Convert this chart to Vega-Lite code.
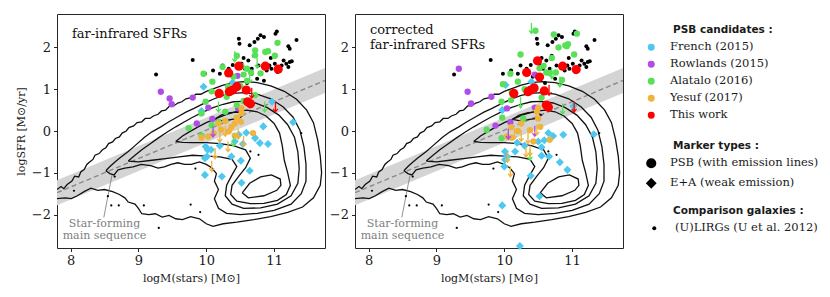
{
"$schema": "https://vega.github.io/schema/vega-lite/v6.json",
"padding": {"left": 14, "top": 13, "right": 5, "bottom": 5},
"bounds": "flush",
"spacing": 30,
"config": {
 "view": {"stroke": "#262626", "strokeWidth": 1},
 "font": "DejaVu Serif",
 "axis": {"grid": false, "domain": false, "tickColor": "#262626", "tickSize": 3.5, "tickWidth": 1, "labelFont": "DejaVu Serif", "labelFontSize": 13, "labelColor": "#1a1a1a", "labelPadding": 3, "titleFont": "DejaVu Serif", "titleFontSize": 11, "titleFontWeight": "normal", "titleColor": "#1a1a1a"},
 "legend": {"orient": "none", "padding": 0, "titleFont": "DejaVu Sans", "titleFontWeight": "bold", "titleFontSize": 10.5, "titleColor": "#1a1a1a", "labelFont": "DejaVu Serif", "labelFontSize": 11.5, "labelColor": "#1a1a1a", "rowPadding": 4, "titlePadding": 6}
},
"datasets": {
 "band": [{"x":7.8,"y":-1.776,"y2":-1.176},{"x":11.75,"y":0.91,"y2":1.51}],
 "msline": [{"x":7.8,"y":-1.476},{"x":11.75,"y":1.21}],
 "pointer": [{"x":8.49,"y":-2.07,"x2":8.61,"y2":-1.06}],
 "notes": [{"x":8.5,"y":-2.22,"text":"Star-forming"},{"x":8.5,"y":-2.51,"text":"main sequence"}],
 "labels": [{"p":1,"x":8.02,"y":2.33,"text":"far-infrared SFRs"},{"p":2,"x":8.02,"y":2.41,"text":"corrected"},{"p":2,"x":8.02,"y":2.05,"text":"far-infrared SFRs"}],
 "sdss": [{"x":8.05,"y":-1.43},{"x":8.65,"y":-1.09},{"x":8.55,"y":-1.56},{"x":8.6,"y":-1.78},{"x":8.71,"y":-1.78},{"x":9.08,"y":-1.78},{"x":9.3,"y":-2.32},{"x":9.84,"y":-0.9},{"x":9.91,"y":-1.94},{"x":10.77,"y":-0.57},{"x":11.4,"y":-0.05},{"x":9.77,"y":-1.76},{"x":10.65,"y":-0.49}],
 "ulirg": [{"x":9.26,"y":1.35},{"x":9.8,"y":1.7},{"x":9.98,"y":1.37},{"x":10.2,"y":1.37},{"x":10.24,"y":1.57},{"x":10.33,"y":1.49},{"x":10.39,"y":1.58},{"x":10.48,"y":2.21},{"x":10.49,"y":2.09},{"x":10.52,"y":1.61},{"x":10.57,"y":1.49},{"x":10.62,"y":1.69},{"x":10.64,"y":2.05},{"x":10.67,"y":1.49},{"x":10.67,"y":1.37},{"x":10.71,"y":2.13},{"x":10.76,"y":2.21},{"x":10.77,"y":1.57},{"x":10.8,"y":2.29},{"x":10.85,"y":2.25},{"x":10.89,"y":1.45},{"x":10.93,"y":1.57},{"x":10.96,"y":1.49},{"x":11.01,"y":1.61},{"x":11.02,"y":2.33},{"x":11.04,"y":2.38},{"x":11.05,"y":1.41},{"x":11.11,"y":1.57},{"x":11.14,"y":1.69},{"x":11.18,"y":1.61},{"x":11.21,"y":1.53},{"x":11.23,"y":1.65},{"x":11.26,"y":1.67},{"x":11.21,"y":2.03},{"x":11.23,"y":1.97},{"x":11.33,"y":2.18},{"x":10.42,"y":1.3},{"x":10.75,"y":1.25},{"x":10.6,"y":1.15},{"x":10.85,"y":1.2},{"x":10.55,"y":1.75},{"x":10.7,"y":1.8},{"x":10.95,"y":1.75},{"x":10.1,"y":1.45}],
 "contours": [
{"l":1,"o":0,"x":7.8,"y":-1.4},{"l":1,"o":1,"x":7.86,"y":-1.33},{"l":1,"o":2,"x":7.9,"y":-1.38},{"l":1,"o":3,"x":7.95,"y":-1.28},{"l":1,"o":4,"x":8.02,"y":-1.2},{"l":1,"o":5,"x":8.06,"y":-1.08},{"l":1,"o":6,"x":8.12,"y":-1.1},{"l":1,"o":7,"x":8.15,"y":-0.98},{"l":1,"o":8,"x":8.2,"y":-0.92},{"l":1,"o":9,"x":8.24,"y":-0.8},{"l":1,"o":10,"x":8.28,"y":-0.74},{"l":1,"o":11,"x":8.33,"y":-0.68},{"l":1,"o":12,"x":8.36,"y":-0.58},{"l":1,"o":13,"x":8.42,"y":-0.54},{"l":1,"o":14,"x":8.47,"y":-0.45},{"l":1,"o":15,"x":8.52,"y":-0.4},{"l":1,"o":16,"x":8.56,"y":-0.3},{"l":1,"o":17,"x":8.62,"y":-0.26},{"l":1,"o":18,"x":8.66,"y":-0.18},{"l":1,"o":19,"x":8.72,"y":-0.14},{"l":1,"o":20,"x":8.76,"y":-0.05},{"l":1,"o":21,"x":8.82,"y":0.0},{"l":1,"o":22,"x":8.86,"y":0.08},{"l":1,"o":23,"x":8.93,"y":0.12},{"l":1,"o":24,"x":8.98,"y":0.2},{"l":1,"o":25,"x":9.05,"y":0.22},{"l":1,"o":26,"x":9.1,"y":0.3},{"l":1,"o":27,"x":9.17,"y":0.3},{"l":1,"o":28,"x":9.22,"y":0.36},{"l":1,"o":29,"x":9.29,"y":0.4},{"l":1,"o":30,"x":9.34,"y":0.48},{"l":1,"o":31,"x":9.4,"y":0.5},{"l":1,"o":32,"x":9.46,"y":0.6},{"l":1,"o":33,"x":9.52,"y":0.6},{"l":1,"o":34,"x":9.58,"y":0.67},{"l":1,"o":35,"x":9.64,"y":0.7},{"l":1,"o":36,"x":9.7,"y":0.77},{"l":1,"o":37,"x":9.78,"y":0.8},{"l":1,"o":38,"x":9.85,"y":0.88},{"l":1,"o":39,"x":9.92,"y":0.88},{"l":1,"o":40,"x":10.0,"y":0.95},{"l":1,"o":41,"x":10.12,"y":1.02},{"l":1,"o":42,"x":10.25,"y":1.1},{"l":1,"o":43,"x":10.4,"y":1.16},{"l":1,"o":44,"x":10.55,"y":1.18},{"l":1,"o":45,"x":10.75,"y":1.16},{"l":1,"o":46,"x":10.95,"y":1.08},{"l":1,"o":47,"x":11.15,"y":0.95},{"l":1,"o":48,"x":11.33,"y":0.76},{"l":1,"o":49,"x":11.48,"y":0.5},{"l":1,"o":50,"x":11.58,"y":0.2},{"l":1,"o":51,"x":11.64,"y":-0.2},{"l":1,"o":52,"x":11.68,"y":-0.6},{"l":1,"o":53,"x":11.7,"y":-1.0},{"l":1,"o":54,"x":11.68,"y":-1.3},{"l":1,"o":55,"x":11.58,"y":-1.6},{"l":1,"o":56,"x":11.42,"y":-1.82},{"l":1,"o":57,"x":11.2,"y":-1.95},{"l":1,"o":58,"x":10.95,"y":-2.05},{"l":1,"o":59,"x":10.7,"y":-2.12},{"l":1,"o":60,"x":10.45,"y":-2.18},{"l":1,"o":61,"x":10.25,"y":-2.22},{"l":1,"o":62,"x":10.1,"y":-2.28},{"l":1,"o":63,"x":10.0,"y":-2.22},{"l":1,"o":64,"x":9.9,"y":-2.1},{"l":1,"o":65,"x":9.77,"y":-2.05},{"l":1,"o":66,"x":9.65,"y":-2.12},{"l":1,"o":67,"x":9.55,"y":-2.1},{"l":1,"o":68,"x":9.45,"y":-2.02},{"l":1,"o":69,"x":9.35,"y":-2.06},{"l":1,"o":70,"x":9.25,"y":-1.98},{"l":1,"o":71,"x":9.15,"y":-2.0},{"l":1,"o":72,"x":9.05,"y":-1.98},{"l":1,"o":73,"x":9.0,"y":-1.85},{"l":1,"o":74,"x":8.95,"y":-1.75},{"l":1,"o":75,"x":8.85,"y":-1.7},{"l":1,"o":76,"x":8.8,"y":-1.6},{"l":1,"o":77,"x":8.72,"y":-1.52},{"l":1,"o":78,"x":8.62,"y":-1.45},{"l":1,"o":79,"x":8.5,"y":-1.4},{"l":1,"o":80,"x":8.4,"y":-1.42},{"l":1,"o":81,"x":8.3,"y":-1.37},{"l":1,"o":82,"x":8.2,"y":-1.45},{"l":1,"o":83,"x":8.1,"y":-1.55},{"l":1,"o":84,"x":8.01,"y":-1.62},{"l":1,"o":85,"x":7.92,"y":-1.6},{"l":1,"o":86,"x":7.8,"y":-1.62},
{"l":2,"o":0,"x":8.52,"y":-0.95},{"l":2,"o":1,"x":8.58,"y":-0.85},{"l":2,"o":2,"x":8.65,"y":-0.75},{"l":2,"o":3,"x":8.72,"y":-0.65},{"l":2,"o":4,"x":8.85,"y":-0.49},{"l":2,"o":5,"x":8.95,"y":-0.35},{"l":2,"o":6,"x":9.09,"y":-0.15},{"l":2,"o":7,"x":9.2,"y":-0.02},{"l":2,"o":8,"x":9.33,"y":0.1},{"l":2,"o":9,"x":9.45,"y":0.22},{"l":2,"o":10,"x":9.58,"y":0.34},{"l":2,"o":11,"x":9.7,"y":0.45},{"l":2,"o":12,"x":9.82,"y":0.54},{"l":2,"o":13,"x":9.95,"y":0.65},{"l":2,"o":14,"x":10.1,"y":0.76},{"l":2,"o":15,"x":10.25,"y":0.85},{"l":2,"o":16,"x":10.4,"y":0.9},{"l":2,"o":17,"x":10.55,"y":0.92},{"l":2,"o":18,"x":10.75,"y":0.88},{"l":2,"o":19,"x":10.95,"y":0.77},{"l":2,"o":20,"x":11.13,"y":0.58},{"l":2,"o":21,"x":11.28,"y":0.33},{"l":2,"o":22,"x":11.38,"y":0.02},{"l":2,"o":23,"x":11.44,"y":-0.38},{"l":2,"o":24,"x":11.47,"y":-0.8},{"l":2,"o":25,"x":11.47,"y":-1.2},{"l":2,"o":26,"x":11.4,"y":-1.5},{"l":2,"o":27,"x":11.25,"y":-1.75},{"l":2,"o":28,"x":11.0,"y":-1.9},{"l":2,"o":29,"x":10.75,"y":-1.97},{"l":2,"o":30,"x":10.5,"y":-2.0},{"l":2,"o":31,"x":10.3,"y":-1.97},{"l":2,"o":32,"x":10.18,"y":-1.85},{"l":2,"o":33,"x":10.12,"y":-1.62},{"l":2,"o":34,"x":10.18,"y":-1.4},{"l":2,"o":35,"x":10.12,"y":-1.2},{"l":2,"o":36,"x":10.15,"y":-1.02},{"l":2,"o":37,"x":10.08,"y":-0.88},{"l":2,"o":38,"x":10.0,"y":-0.8},{"l":2,"o":39,"x":9.9,"y":-0.74},{"l":2,"o":40,"x":9.78,"y":-0.8},{"l":2,"o":41,"x":9.68,"y":-0.8},{"l":2,"o":42,"x":9.58,"y":-0.76},{"l":2,"o":43,"x":9.48,"y":-0.8},{"l":2,"o":44,"x":9.38,"y":-0.86},{"l":2,"o":45,"x":9.29,"y":-0.89},{"l":2,"o":46,"x":9.18,"y":-0.83},{"l":2,"o":47,"x":9.04,"y":-0.8},{"l":2,"o":48,"x":8.92,"y":-0.86},{"l":2,"o":49,"x":8.8,"y":-0.89},{"l":2,"o":50,"x":8.7,"y":-0.93},{"l":2,"o":51,"x":8.64,"y":-1.05},{"l":2,"o":52,"x":8.58,"y":-1.02},{"l":2,"o":53,"x":8.52,"y":-0.95},
{"l":3,"o":0,"x":8.85,"y":-0.72},{"l":3,"o":1,"x":8.95,"y":-0.58},{"l":3,"o":2,"x":9.05,"y":-0.45},{"l":3,"o":3,"x":9.18,"y":-0.3},{"l":3,"o":4,"x":9.29,"y":-0.17},{"l":3,"o":5,"x":9.42,"y":-0.03},{"l":3,"o":6,"x":9.55,"y":0.1},{"l":3,"o":7,"x":9.68,"y":0.22},{"l":3,"o":8,"x":9.8,"y":0.33},{"l":3,"o":9,"x":9.95,"y":0.45},{"l":3,"o":10,"x":10.1,"y":0.56},{"l":3,"o":11,"x":10.25,"y":0.64},{"l":3,"o":12,"x":10.4,"y":0.7},{"l":3,"o":13,"x":10.55,"y":0.71},{"l":3,"o":14,"x":10.72,"y":0.67},{"l":3,"o":15,"x":10.9,"y":0.56},{"l":3,"o":16,"x":11.07,"y":0.38},{"l":3,"o":17,"x":11.2,"y":0.15},{"l":3,"o":18,"x":11.3,"y":-0.15},{"l":3,"o":19,"x":11.35,"y":-0.5},{"l":3,"o":20,"x":11.37,"y":-0.9},{"l":3,"o":21,"x":11.35,"y":-1.25},{"l":3,"o":22,"x":11.25,"y":-1.55},{"l":3,"o":23,"x":11.05,"y":-1.75},{"l":3,"o":24,"x":10.8,"y":-1.84},{"l":3,"o":25,"x":10.55,"y":-1.85},{"l":3,"o":26,"x":10.38,"y":-1.75},{"l":3,"o":27,"x":10.28,"y":-1.55},{"l":3,"o":28,"x":10.3,"y":-1.3},{"l":3,"o":29,"x":10.38,"y":-1.05},{"l":3,"o":30,"x":10.45,"y":-0.85},{"l":3,"o":31,"x":10.38,"y":-0.68},{"l":3,"o":32,"x":10.2,"y":-0.62},{"l":3,"o":33,"x":10.0,"y":-0.6},{"l":3,"o":34,"x":9.8,"y":-0.58},{"l":3,"o":35,"x":9.6,"y":-0.62},{"l":3,"o":36,"x":9.4,"y":-0.66},{"l":3,"o":37,"x":9.2,"y":-0.7},{"l":3,"o":38,"x":9.0,"y":-0.74},{"l":3,"o":39,"x":8.85,"y":-0.72},
{"l":4,"o":0,"x":9.55,"y":-0.25},{"l":4,"o":1,"x":9.65,"y":-0.12},{"l":4,"o":2,"x":9.75,"y":-0.02},{"l":4,"o":3,"x":9.88,"y":0.1},{"l":4,"o":4,"x":10.0,"y":0.2},{"l":4,"o":5,"x":10.15,"y":0.3},{"l":4,"o":6,"x":10.3,"y":0.4},{"l":4,"o":7,"x":10.45,"y":0.47},{"l":4,"o":8,"x":10.6,"y":0.5},{"l":4,"o":9,"x":10.75,"y":0.46},{"l":4,"o":10,"x":10.88,"y":0.36},{"l":4,"o":11,"x":11.0,"y":0.18},{"l":4,"o":12,"x":11.08,"y":-0.05},{"l":4,"o":13,"x":11.12,"y":-0.35},{"l":4,"o":14,"x":11.15,"y":-0.7},{"l":4,"o":15,"x":11.2,"y":-1.0},{"l":4,"o":16,"x":11.24,"y":-1.3},{"l":4,"o":17,"x":11.18,"y":-1.52},{"l":4,"o":18,"x":11.05,"y":-1.66},{"l":4,"o":19,"x":10.85,"y":-1.73},{"l":4,"o":20,"x":10.65,"y":-1.74},{"l":4,"o":21,"x":10.45,"y":-1.68},{"l":4,"o":22,"x":10.36,"y":-1.52},{"l":4,"o":23,"x":10.38,"y":-1.3},{"l":4,"o":24,"x":10.48,"y":-1.08},{"l":4,"o":25,"x":10.58,"y":-0.88},{"l":4,"o":26,"x":10.65,"y":-0.65},{"l":4,"o":27,"x":10.58,"y":-0.45},{"l":4,"o":28,"x":10.4,"y":-0.35},{"l":4,"o":29,"x":10.2,"y":-0.3},{"l":4,"o":30,"x":10.0,"y":-0.28},{"l":4,"o":31,"x":9.8,"y":-0.28},{"l":4,"o":32,"x":9.65,"y":-0.27},{"l":4,"o":33,"x":9.55,"y":-0.25},
{"l":5,"o":0,"x":10.12,"y":0.28},{"l":5,"o":1,"x":10.22,"y":0.38},{"l":5,"o":2,"x":10.35,"y":0.44},{"l":5,"o":3,"x":10.48,"y":0.45},{"l":5,"o":4,"x":10.55,"y":0.38},{"l":5,"o":5,"x":10.48,"y":0.3},{"l":5,"o":6,"x":10.35,"y":0.27},{"l":5,"o":7,"x":10.22,"y":0.25},{"l":5,"o":8,"x":10.12,"y":0.28},
{"l":6,"o":0,"x":10.53,"y":-1.48},{"l":6,"o":1,"x":10.64,"y":-1.25},{"l":6,"o":2,"x":10.8,"y":-1.1},{"l":6,"o":3,"x":10.96,"y":-1.05},{"l":6,"o":4,"x":11.09,"y":-1.15},{"l":6,"o":5,"x":11.1,"y":-1.3},{"l":6,"o":6,"x":11.04,"y":-1.42},{"l":6,"o":7,"x":10.85,"y":-1.55},{"l":6,"o":8,"x":10.62,"y":-1.6},{"l":6,"o":9,"x":10.53,"y":-1.48}
 ],
 "psb": [
{"p":1,"s":"French (2015)","t":"E+A (weak emission)","u":0,"x":9.96,"y":1.06},{"p":1,"s":"French (2015)","t":"E+A (weak emission)","u":0,"x":9.93,"y":0.48},{"p":1,"s":"French (2015)","t":"E+A (weak emission)","u":0,"x":10.39,"y":1.16},{"p":1,"s":"French (2015)","t":"E+A (weak emission)","u":0,"x":9.99,"y":-0.37},{"p":1,"s":"French (2015)","t":"E+A (weak emission)","u":0,"x":10.02,"y":-0.45},{"p":1,"s":"French (2015)","t":"E+A (weak emission)","u":0,"x":10.07,"y":-0.45},{"p":1,"s":"French (2015)","t":"E+A (weak emission)","u":0,"x":10.01,"y":-0.61},{"p":1,"s":"French (2015)","t":"E+A (weak emission)","u":0,"x":10.2,"y":-0.35},{"p":1,"s":"French (2015)","t":"E+A (weak emission)","u":0,"x":10.37,"y":-0.61},{"p":1,"s":"French (2015)","t":"E+A (weak emission)","u":0,"x":10.51,"y":-0.71},{"p":1,"s":"French (2015)","t":"E+A (weak emission)","u":0,"x":10.23,"y":-1.09},{"p":1,"s":"French (2015)","t":"E+A (weak emission)","u":0,"x":10.52,"y":-1.24},{"p":1,"s":"French (2015)","t":"E+A (weak emission)","u":0,"x":9.98,"y":-1.05},{"p":1,"s":"French (2015)","t":"E+A (weak emission)","u":0,"x":10.64,"y":-0.95},{"p":1,"s":"French (2015)","t":"E+A (weak emission)","u":0,"x":10.59,"y":-0.04},{"p":1,"s":"French (2015)","t":"E+A (weak emission)","u":0,"x":10.72,"y":-0.17},{"p":1,"s":"French (2015)","t":"E+A (weak emission)","u":0,"x":10.79,"y":-0.29},{"p":1,"s":"French (2015)","t":"E+A (weak emission)","u":0,"x":10.91,"y":-0.31},{"p":1,"s":"French (2015)","t":"E+A (weak emission)","u":0,"x":10.84,"y":0.11},{"p":1,"s":"French (2015)","t":"E+A (weak emission)","u":0,"x":10.97,"y":0.7},{"p":1,"s":"French (2015)","t":"E+A (weak emission)","u":0,"x":11.28,"y":0.21},{"p":1,"s":"French (2015)","t":"E+A (weak emission)","u":0,"x":10.48,"y":-0.09},{"p":1,"s":"French (2015)","t":"E+A (weak emission)","u":0,"x":10.42,"y":-0.25},{"p":1,"s":"French (2015)","t":"E+A (weak emission)","u":0,"x":10.54,"y":-0.31},{"p":1,"s":"French (2015)","t":"E+A (weak emission)","u":0,"x":9.98,"y":-0.65},
{"p":1,"s":"Rowlands (2015)","t":"PSB (with emission lines)","u":0,"x":9.33,"y":0.94},{"p":1,"s":"Rowlands (2015)","t":"PSB (with emission lines)","u":0,"x":9.46,"y":0.78},{"p":1,"s":"Rowlands (2015)","t":"PSB (with emission lines)","u":0,"x":9.49,"y":0.64},{"p":1,"s":"Rowlands (2015)","t":"PSB (with emission lines)","u":0,"x":9.8,"y":0.8},{"p":1,"s":"Rowlands (2015)","t":"PSB (with emission lines)","u":0,"x":10.03,"y":0.56},{"p":1,"s":"Rowlands (2015)","t":"PSB (with emission lines)","u":0,"x":10.09,"y":0.29},{"p":1,"s":"Rowlands (2015)","t":"PSB (with emission lines)","u":0,"x":10.46,"y":1.32},{"p":1,"s":"Rowlands (2015)","t":"PSB (with emission lines)","u":0,"x":9.86,"y":0.18},{"p":1,"s":"Rowlands (2015)","t":"PSB (with emission lines)","u":0,"x":10.47,"y":0.54},{"p":1,"s":"Rowlands (2015)","u":1,"x":10.1,"y":0.1},
{"p":1,"s":"Alatalo (2016)","t":"PSB (with emission lines)","u":0,"x":9.74,"y":0.07},{"p":1,"s":"Alatalo (2016)","t":"PSB (with emission lines)","u":0,"x":9.96,"y":1.37},{"p":1,"s":"Alatalo (2016)","t":"PSB (with emission lines)","u":0,"x":10.09,"y":1.18},{"p":1,"s":"Alatalo (2016)","t":"PSB (with emission lines)","u":0,"x":9.99,"y":0.7},{"p":1,"s":"Alatalo (2016)","t":"PSB (with emission lines)","u":0,"x":10.08,"y":0.95},{"p":1,"s":"Alatalo (2016)","t":"PSB (with emission lines)","u":0,"x":10.45,"y":1.8},{"p":1,"s":"Alatalo (2016)","t":"PSB (with emission lines)","u":0,"x":10.52,"y":1.55},{"p":1,"s":"Alatalo (2016)","t":"PSB (with emission lines)","u":0,"x":10.6,"y":1.49},{"p":1,"s":"Alatalo (2016)","t":"PSB (with emission lines)","u":0,"x":10.72,"y":1.93},{"p":1,"s":"Alatalo (2016)","t":"PSB (with emission lines)","u":0,"x":10.72,"y":1.81},{"p":1,"s":"Alatalo (2016)","t":"PSB (with emission lines)","u":0,"x":10.87,"y":1.89},{"p":1,"s":"Alatalo (2016)","t":"PSB (with emission lines)","u":0,"x":10.91,"y":1.91},{"p":1,"s":"Alatalo (2016)","t":"PSB (with emission lines)","u":0,"x":11.05,"y":2.11},{"p":1,"s":"Alatalo (2016)","t":"PSB (with emission lines)","u":0,"x":11.01,"y":1.8},{"p":1,"s":"Alatalo (2016)","t":"PSB (with emission lines)","u":0,"x":10.24,"y":1.53},{"p":1,"s":"Alatalo (2016)","t":"PSB (with emission lines)","u":0,"x":10.32,"y":1.06},{"p":1,"s":"Alatalo (2016)","t":"PSB (with emission lines)","u":0,"x":10.45,"y":0.62},{"p":1,"s":"Alatalo (2016)","t":"PSB (with emission lines)","u":0,"x":9.93,"y":0.42},{"p":1,"s":"Alatalo (2016)","t":"PSB (with emission lines)","u":0,"x":10.28,"y":0.46},{"p":1,"s":"Alatalo (2016)","t":"PSB (with emission lines)","u":0,"x":10.18,"y":0.22},{"p":1,"s":"Alatalo (2016)","t":"PSB (with emission lines)","u":0,"x":9.93,"y":-0.11},{"p":1,"s":"Alatalo (2016)","t":"PSB (with emission lines)","u":0,"x":10.08,"y":0.14},{"p":1,"s":"Alatalo (2016)","t":"PSB (with emission lines)","u":0,"x":10.72,"y":0.86},{"p":1,"s":"Alatalo (2016)","t":"PSB (with emission lines)","u":0,"x":10.4,"y":1.3},{"p":1,"s":"Alatalo (2016)","t":"PSB (with emission lines)","u":0,"x":10.55,"y":1.35},{"p":1,"s":"Alatalo (2016)","t":"PSB (with emission lines)","u":0,"x":10.66,"y":1.4},{"p":1,"s":"Alatalo (2016)","t":"PSB (with emission lines)","u":0,"x":10.8,"y":1.38},{"p":1,"s":"Alatalo (2016)","t":"PSB (with emission lines)","u":0,"x":10.3,"y":0.82},{"p":1,"s":"Alatalo (2016)","t":"PSB (with emission lines)","u":0,"x":10.55,"y":0.72},{"p":1,"s":"Alatalo (2016)","t":"PSB (with emission lines)","u":0,"x":10.6,"y":1.2},{"p":1,"s":"Alatalo (2016)","t":"PSB (with emission lines)","u":0,"x":10.5,"y":1.08},
{"p":1,"s":"Alatalo (2016)","u":1,"x":10.42,"y":1.9},{"p":1,"s":"Alatalo (2016)","u":1,"x":10.86,"y":0.7},{"p":1,"s":"Alatalo (2016)","u":1,"x":10.18,"y":0.7},{"p":1,"s":"Alatalo (2016)","u":1,"x":10.4,"y":-0.12},{"p":1,"s":"Alatalo (2016)","u":1,"x":10.64,"y":1.4},{"p":1,"s":"Alatalo (2016)","u":1,"x":10.75,"y":1.75},
{"p":1,"s":"Yesuf (2017)","t":"PSB (with emission lines)","u":0,"x":10.52,"y":0.54},{"p":1,"s":"Yesuf (2017)","t":"PSB (with emission lines)","u":0,"x":10.52,"y":0.42},{"p":1,"s":"Yesuf (2017)","t":"PSB (with emission lines)","u":0,"x":10.51,"y":0.22},{"p":1,"s":"Yesuf (2017)","t":"PSB (with emission lines)","u":0,"x":10.42,"y":0.18},{"p":1,"s":"Yesuf (2017)","t":"PSB (with emission lines)","u":0,"x":10.28,"y":0.24},{"p":1,"s":"Yesuf (2017)","t":"PSB (with emission lines)","u":0,"x":10.18,"y":0.18},{"p":1,"s":"Yesuf (2017)","t":"PSB (with emission lines)","u":0,"x":10.11,"y":-0.05},{"p":1,"s":"Yesuf (2017)","t":"PSB (with emission lines)","u":0,"x":10.03,"y":-0.13},{"p":1,"s":"Yesuf (2017)","t":"PSB (with emission lines)","u":0,"x":9.93,"y":-0.16},{"p":1,"s":"Yesuf (2017)","t":"PSB (with emission lines)","u":0,"x":10.42,"y":-0.11},{"p":1,"s":"Yesuf (2017)","t":"PSB (with emission lines)","u":0,"x":10.69,"y":-0.05},{"p":1,"s":"Yesuf (2017)","t":"PSB (with emission lines)","u":0,"x":10.33,"y":-0.01},{"p":1,"s":"Yesuf (2017)","t":"PSB (with emission lines)","u":0,"x":10.22,"y":0.03},{"p":1,"s":"Yesuf (2017)","t":"PSB (with emission lines)","u":0,"x":10.45,"y":0.32},{"p":1,"s":"Yesuf (2017)","t":"PSB (with emission lines)","u":0,"x":10.37,"y":0.1},
{"p":1,"s":"Yesuf (2017)","u":1,"x":10.28,"y":0.12},{"p":1,"s":"Yesuf (2017)","u":1,"x":10.2,"y":-0.02},{"p":1,"s":"Yesuf (2017)","u":1,"x":10.32,"y":-0.25},{"p":1,"s":"Yesuf (2017)","u":1,"x":10.13,"y":-0.42},{"p":1,"s":"Yesuf (2017)","u":1,"x":10.08,"y":-0.72},{"p":1,"s":"Yesuf (2017)","u":1,"x":10.47,"y":0.05},{"p":1,"s":"Yesuf (2017)","u":1,"x":10.55,"y":-0.12},
{"p":1,"s":"This work","t":"PSB (with emission lines)","u":0,"x":10.33,"y":1.39},{"p":1,"s":"This work","t":"PSB (with emission lines)","u":0,"x":10.48,"y":1.55},{"p":1,"s":"This work","t":"PSB (with emission lines)","u":0,"x":10.87,"y":1.55},{"p":1,"s":"This work","t":"PSB (with emission lines)","u":0,"x":11.06,"y":1.48},{"p":1,"s":"This work","t":"PSB (with emission lines)","u":0,"x":10.19,"y":0.9},{"p":1,"s":"This work","t":"PSB (with emission lines)","u":0,"x":10.34,"y":0.94},{"p":1,"s":"This work","t":"PSB (with emission lines)","u":0,"x":10.39,"y":0.98},{"p":1,"s":"This work","t":"PSB (with emission lines)","u":0,"x":10.45,"y":1.06},{"p":1,"s":"This work","t":"PSB (with emission lines)","u":0,"x":10.59,"y":0.98},{"p":1,"s":"This work","t":"PSB (with emission lines)","u":0,"x":10.61,"y":0.7},{"p":1,"s":"This work","t":"PSB (with emission lines)","u":0,"x":10.65,"y":0.65},
{"p":1,"s":"This work","u":1,"x":10.67,"y":1.03},{"p":1,"s":"This work","u":1,"x":11.02,"y":0.7},
{"p":2,"s":"French (2015)","t":"E+A (weak emission)","u":0,"x":10.02,"y":1.1},{"p":2,"s":"French (2015)","t":"E+A (weak emission)","u":0,"x":9.97,"y":0.5},{"p":2,"s":"French (2015)","t":"E+A (weak emission)","u":0,"x":10.4,"y":1.18},{"p":2,"s":"French (2015)","t":"E+A (weak emission)","u":0,"x":10.87,"y":-0.09},{"p":2,"s":"French (2015)","t":"E+A (weak emission)","u":0,"x":11.02,"y":0.6},{"p":2,"s":"French (2015)","t":"E+A (weak emission)","u":0,"x":11.32,"y":-0.08},{"p":2,"s":"French (2015)","t":"E+A (weak emission)","u":0,"x":10.5,"y":-0.25},{"p":2,"s":"French (2015)","t":"E+A (weak emission)","u":0,"x":10.59,"y":-0.22},{"p":2,"s":"French (2015)","t":"E+A (weak emission)","u":0,"x":10.55,"y":-0.39},{"p":2,"s":"French (2015)","t":"E+A (weak emission)","u":0,"x":10.66,"y":-0.61},{"p":2,"s":"French (2015)","t":"E+A (weak emission)","u":0,"x":10.55,"y":-0.59},{"p":2,"s":"French (2015)","t":"E+A (weak emission)","u":0,"x":10.82,"y":-0.75},{"p":2,"s":"French (2015)","t":"E+A (weak emission)","u":0,"x":10.19,"y":-0.28},{"p":2,"s":"French (2015)","t":"E+A (weak emission)","u":0,"x":10.16,"y":-0.49},{"p":2,"s":"French (2015)","t":"E+A (weak emission)","u":0,"x":10.01,"y":-0.49},{"p":2,"s":"French (2015)","t":"E+A (weak emission)","u":0,"x":10.04,"y":-0.61},{"p":2,"s":"French (2015)","t":"E+A (weak emission)","u":0,"x":10.01,"y":-0.69},{"p":2,"s":"French (2015)","t":"E+A (weak emission)","u":0,"x":10.0,"y":-0.85},{"p":2,"s":"French (2015)","t":"E+A (weak emission)","u":0,"x":10.39,"y":-1.07},{"p":2,"s":"French (2015)","t":"E+A (weak emission)","u":0,"x":10.93,"y":-0.93},{"p":2,"s":"French (2015)","t":"E+A (weak emission)","u":0,"x":10.52,"y":-1.56},{"p":2,"s":"French (2015)","t":"E+A (weak emission)","u":0,"x":9.97,"y":-1.78},{"p":2,"s":"French (2015)","t":"E+A (weak emission)","u":0,"x":10.23,"y":-2.75},{"p":2,"s":"French (2015)","t":"E+A (weak emission)","u":0,"x":10.65,"y":-0.05},{"p":2,"s":"French (2015)","t":"E+A (weak emission)","u":0,"x":10.72,"y":-0.12},{"p":2,"s":"French (2015)","t":"E+A (weak emission)","u":0,"x":10.3,"y":-0.35},
{"p":2,"s":"Rowlands (2015)","t":"PSB (with emission lines)","u":0,"x":9.33,"y":1.49},{"p":2,"s":"Rowlands (2015)","t":"PSB (with emission lines)","u":0,"x":9.46,"y":0.94},{"p":2,"s":"Rowlands (2015)","t":"PSB (with emission lines)","u":0,"x":9.51,"y":0.66},{"p":2,"s":"Rowlands (2015)","t":"PSB (with emission lines)","u":0,"x":9.81,"y":0.82},{"p":2,"s":"Rowlands (2015)","t":"PSB (with emission lines)","u":0,"x":10.04,"y":0.54},{"p":2,"s":"Rowlands (2015)","t":"PSB (with emission lines)","u":0,"x":10.09,"y":0.21},{"p":2,"s":"Rowlands (2015)","t":"PSB (with emission lines)","u":0,"x":10.45,"y":1.35},{"p":2,"s":"Rowlands (2015)","t":"PSB (with emission lines)","u":0,"x":9.87,"y":0.13},{"p":2,"s":"Rowlands (2015)","t":"PSB (with emission lines)","u":0,"x":10.45,"y":0.56},
{"p":2,"s":"Rowlands (2015)","u":1,"x":10.06,"y":0.05},{"p":2,"s":"Rowlands (2015)","u":1,"x":10.45,"y":0.12},
{"p":2,"s":"Alatalo (2016)","t":"PSB (with emission lines)","u":0,"x":10.46,"y":2.4},{"p":2,"s":"Alatalo (2016)","t":"PSB (with emission lines)","u":0,"x":10.24,"y":1.83},{"p":2,"s":"Alatalo (2016)","t":"PSB (with emission lines)","u":0,"x":10.73,"y":2.31},{"p":2,"s":"Alatalo (2016)","t":"PSB (with emission lines)","u":0,"x":10.8,"y":2.0},{"p":2,"s":"Alatalo (2016)","t":"PSB (with emission lines)","u":0,"x":10.9,"y":2.05},{"p":2,"s":"Alatalo (2016)","t":"PSB (with emission lines)","u":0,"x":10.94,"y":2.08},{"p":2,"s":"Alatalo (2016)","t":"PSB (with emission lines)","u":0,"x":11.03,"y":1.83},{"p":2,"s":"Alatalo (2016)","t":"PSB (with emission lines)","u":0,"x":11.07,"y":2.33},{"p":2,"s":"Alatalo (2016)","t":"PSB (with emission lines)","u":0,"x":10.92,"y":2.03},{"p":2,"s":"Alatalo (2016)","t":"PSB (with emission lines)","u":0,"x":10.58,"y":1.56},{"p":2,"s":"Alatalo (2016)","t":"PSB (with emission lines)","u":0,"x":10.52,"y":1.5},{"p":2,"s":"Alatalo (2016)","t":"PSB (with emission lines)","u":0,"x":10.62,"y":1.4},{"p":2,"s":"Alatalo (2016)","t":"PSB (with emission lines)","u":0,"x":10.09,"y":1.37},{"p":2,"s":"Alatalo (2016)","t":"PSB (with emission lines)","u":0,"x":10.2,"y":1.18},{"p":2,"s":"Alatalo (2016)","t":"PSB (with emission lines)","u":0,"x":9.98,"y":1.12},{"p":2,"s":"Alatalo (2016)","t":"PSB (with emission lines)","u":0,"x":10.11,"y":0.92},{"p":2,"s":"Alatalo (2016)","t":"PSB (with emission lines)","u":0,"x":10.67,"y":1.39},{"p":2,"s":"Alatalo (2016)","t":"PSB (with emission lines)","u":0,"x":10.76,"y":1.4},{"p":2,"s":"Alatalo (2016)","t":"PSB (with emission lines)","u":0,"x":10.85,"y":1.22},{"p":2,"s":"Alatalo (2016)","t":"PSB (with emission lines)","u":0,"x":9.96,"y":0.7},{"p":2,"s":"Alatalo (2016)","t":"PSB (with emission lines)","u":0,"x":10.1,"y":0.74},{"p":2,"s":"Alatalo (2016)","t":"PSB (with emission lines)","u":0,"x":9.97,"y":0.32},{"p":2,"s":"Alatalo (2016)","t":"PSB (with emission lines)","u":0,"x":10.28,"y":0.3},{"p":2,"s":"Alatalo (2016)","t":"PSB (with emission lines)","u":0,"x":9.74,"y":0.03},{"p":2,"s":"Alatalo (2016)","t":"PSB (with emission lines)","u":0,"x":9.96,"y":-0.17},{"p":2,"s":"Alatalo (2016)","t":"PSB (with emission lines)","u":0,"x":10.4,"y":1.0},{"p":2,"s":"Alatalo (2016)","t":"PSB (with emission lines)","u":0,"x":10.55,"y":0.8},{"p":2,"s":"Alatalo (2016)","t":"PSB (with emission lines)","u":0,"x":10.7,"y":1.75},{"p":2,"s":"Alatalo (2016)","t":"PSB (with emission lines)","u":0,"x":10.3,"y":1.0},
{"p":2,"s":"Alatalo (2016)","u":1,"x":10.4,"y":2.58},{"p":2,"s":"Alatalo (2016)","u":1,"x":10.24,"y":0.8},{"p":2,"s":"Alatalo (2016)","u":1,"x":10.7,"y":1.5},{"p":2,"s":"Alatalo (2016)","u":1,"x":10.86,"y":0.65},{"p":2,"s":"Alatalo (2016)","u":1,"x":10.38,"y":-0.45},{"p":2,"s":"Alatalo (2016)","u":1,"x":10.82,"y":1.3},
{"p":2,"s":"Yesuf (2017)","t":"PSB (with emission lines)","u":0,"x":10.48,"y":0.46},{"p":2,"s":"Yesuf (2017)","t":"PSB (with emission lines)","u":0,"x":10.5,"y":0.3},{"p":2,"s":"Yesuf (2017)","t":"PSB (with emission lines)","u":0,"x":10.53,"y":0.1},{"p":2,"s":"Yesuf (2017)","t":"PSB (with emission lines)","u":0,"x":10.25,"y":0.18},{"p":2,"s":"Yesuf (2017)","t":"PSB (with emission lines)","u":0,"x":10.1,"y":0.09},{"p":2,"s":"Yesuf (2017)","t":"PSB (with emission lines)","u":0,"x":10.04,"y":-0.13},{"p":2,"s":"Yesuf (2017)","t":"PSB (with emission lines)","u":0,"x":10.11,"y":-0.16},{"p":2,"s":"Yesuf (2017)","t":"PSB (with emission lines)","u":0,"x":10.43,"y":-0.25},{"p":2,"s":"Yesuf (2017)","t":"PSB (with emission lines)","u":0,"x":10.67,"y":-0.21},{"p":2,"s":"Yesuf (2017)","t":"PSB (with emission lines)","u":0,"x":10.38,"y":0.02},{"p":2,"s":"Yesuf (2017)","t":"PSB (with emission lines)","u":0,"x":10.2,"y":0.0},{"p":2,"s":"Yesuf (2017)","t":"PSB (with emission lines)","u":0,"x":10.5,"y":0.55},
{"p":2,"s":"Yesuf (2017)","u":1,"x":10.15,"y":0.05},{"p":2,"s":"Yesuf (2017)","u":1,"x":10.25,"y":0.0},{"p":2,"s":"Yesuf (2017)","u":1,"x":10.35,"y":-0.05},{"p":2,"s":"Yesuf (2017)","u":1,"x":10.38,"y":-0.35},{"p":2,"s":"Yesuf (2017)","u":1,"x":10.32,"y":-0.38},{"p":2,"s":"Yesuf (2017)","u":1,"x":10.09,"y":-0.85},{"p":2,"s":"Yesuf (2017)","u":1,"x":10.05,"y":-0.5},{"p":2,"s":"Yesuf (2017)","u":1,"x":10.48,"y":0.15},
{"p":2,"s":"This work","t":"PSB (with emission lines)","u":0,"x":10.49,"y":1.68},{"p":2,"s":"This work","t":"PSB (with emission lines)","u":0,"x":10.33,"y":1.4},{"p":2,"s":"This work","t":"PSB (with emission lines)","u":0,"x":10.52,"y":1.29},{"p":2,"s":"This work","t":"PSB (with emission lines)","u":0,"x":10.86,"y":1.55},{"p":2,"s":"This work","t":"PSB (with emission lines)","u":0,"x":11.06,"y":1.47},{"p":2,"s":"This work","t":"PSB (with emission lines)","u":0,"x":10.14,"y":0.9},{"p":2,"s":"This work","t":"PSB (with emission lines)","u":0,"x":10.35,"y":0.94},{"p":2,"s":"This work","t":"PSB (with emission lines)","u":0,"x":10.39,"y":0.98},{"p":2,"s":"This work","t":"PSB (with emission lines)","u":0,"x":10.44,"y":1.03},{"p":2,"s":"This work","t":"PSB (with emission lines)","u":0,"x":10.59,"y":0.96},{"p":2,"s":"This work","t":"PSB (with emission lines)","u":0,"x":10.62,"y":0.62},{"p":2,"s":"This work","t":"PSB (with emission lines)","u":0,"x":10.65,"y":0.57},
{"p":2,"s":"This work","u":1,"x":10.66,"y":1.1},{"p":2,"s":"This work","u":1,"x":11.03,"y":0.7}
 ]
},
"hconcat": [
 {
  "width": 268, "height": 234,
  "encoding": {
   "x": {"field": "x", "type": "quantitative", "scale": {"domain": [7.8, 11.75], "nice": false, "zero": false}, "axis": {"values": [8, 9, 10, 11], "title": "logM(stars) [M⊙]", "titlePadding": 5}},
   "y": {"field": "y", "type": "quantitative", "scale": {"domain": [-2.8, 2.8], "nice": false, "zero": false}, "axis": {"values": [-2, -1, 0, 1, 2], "title": "logSFR [M⊙/yr]", "titlePadding": 5, "labelExpr": "replace(datum.label, '-', '−')"}}
  },
  "layer": [
   {"data": {"name": "band"}, "mark": {"type": "area", "color": "#d4d4d4", "clip": true}, "encoding": {"y2": {"field": "y2"}}},
   {"data": {"name": "msline"}, "mark": {"type": "line", "color": "#8a8a8a", "strokeDash": [5, 3], "strokeWidth": 1.4, "clip": true}, "encoding": {}},
   {"data": {"name": "contours"}, "mark": {"type": "line", "color": "#111111", "strokeWidth": 1.3, "clip": true}, "encoding": {"detail": {"field": "l", "type": "nominal"}, "order": {"field": "o", "type": "quantitative"}}},
   {"data": {"name": "pointer"}, "mark": {"type": "rule", "color": "#777777", "strokeWidth": 0.8}, "encoding": {"x2": {"field": "x2"}, "y2": {"field": "y2"}}},
   {"data": {"name": "notes"}, "mark": {"type": "text", "color": "#808080", "font": "DejaVu Serif", "fontSize": 11, "align": "center", "baseline": "middle"}, "encoding": {"text": {"field": "text"}}},
   {"data": {"name": "labels"}, "transform": [{"filter": "datum.p == 1"}], "mark": {"type": "text", "color": "#111111", "font": "DejaVu Serif", "fontSize": 13, "align": "left", "baseline": "middle"}, "encoding": {"text": {"field": "text"}}},
   {"data": {"name": "sdss"}, "mark": {"type": "point", "filled": true, "color": "black", "size": 5, "opacity": 1}},
   {"data": {"name": "ulirg"}, "mark": {"type": "point", "filled": true, "color": "black", "opacity": 1},
    "encoding": {"size": {"datum": "(U)LIRGs (U et al. 2012)", "type": "nominal", "scale": {"type": "ordinal", "range": [16]}, "legend": {"title": "Comparison galaxies :", "legendX": 616, "legendY": 192, "labelFont": "DejaVu Serif", "symbolFillColor": "black", "symbolStrokeColor": "black", "labelOffset": 15, "symbolOffset": -24.5}}}},
   {"data": {"name": "psb"}, "transform": [{"filter": "datum.p == 1 && datum.u == 0 && datum.s == 'French (2015)'"}], "mark": {"type": "point", "filled": true, "size": 65, "opacity": 1},
    "encoding": {
     "color": {"field": "s", "type": "nominal", "scale": {"domain": ["French (2015)", "Rowlands (2015)", "Alatalo (2016)", "Yesuf (2017)", "This work"], "range": ["#4ec8ee", "#b04ce8", "#58e058", "#f0b43c", "#ff0000"]},
      "legend": {"title": "PSB candidates :", "legendX": 616, "legendY": 11, "labelFont": "DejaVu Serif", "symbolType": "circle", "symbolSize": 30, "labelOffset": 13, "symbolOffset": -27.5}},
     "shape": {"field": "t", "type": "nominal", "scale": {"domain": ["PSB (with emission lines)", "E+A (weak emission)"], "range": ["circle", "diamond"]},
      "legend": {"title": "Marker types :", "legendX": 616, "legendY": 127, "labelFont": "DejaVu Serif", "symbolSize": 75, "labelOffset": 13, "symbolOffset": -27.5, "symbolFillColor": "black", "symbolStrokeColor": "black"}}
    }},
   {"data": {"name": "psb"}, "transform": [{"filter": "datum.p == 1 && datum.u == 0 && datum.s != 'This work' && datum.s != 'French (2015)'"}], "mark": {"type": "point", "filled": true, "size": 40, "opacity": 1},
    "encoding": {
     "color": {"field": "s", "type": "nominal", "scale": {"domain": ["French (2015)", "Rowlands (2015)", "Alatalo (2016)", "Yesuf (2017)", "This work"], "range": ["#4ec8ee", "#b04ce8", "#58e058", "#f0b43c", "#ff0000"]}},
     "shape": {"field": "t", "type": "nominal", "scale": {"domain": ["PSB (with emission lines)", "E+A (weak emission)"], "range": ["circle", "diamond"]}}
    }},
   {"data": {"name": "psb"}, "transform": [{"filter": "datum.p == 1 && datum.u == 1"}], "mark": {"type": "point", "shape": "M0,-1L0,1M-0.45,0.4L0,1L0.45,0.4", "filled": false, "size": 110, "strokeWidth": 1.3, "yOffset": 5, "opacity": 1},
    "encoding": {"stroke": {"field": "s", "type": "nominal", "scale": {"domain": ["French (2015)", "Rowlands (2015)", "Alatalo (2016)", "Yesuf (2017)", "This work"], "range": ["#4ec8ee", "#b04ce8", "#58e058", "#f0b43c", "#ff0000"]}, "legend": null}}},
   {"data": {"name": "psb"}, "transform": [{"filter": "datum.p == 1 && datum.u == 0 && datum.s == 'This work'"}], "mark": {"type": "point", "filled": true, "size": 85, "opacity": 1},
    "encoding": {
     "color": {"field": "s", "type": "nominal", "scale": {"domain": ["French (2015)", "Rowlands (2015)", "Alatalo (2016)", "Yesuf (2017)", "This work"], "range": ["#4ec8ee", "#b04ce8", "#58e058", "#f0b43c", "#ff0000"]}},
     "shape": {"field": "t", "type": "nominal", "scale": {"domain": ["PSB (with emission lines)", "E+A (weak emission)"], "range": ["circle", "diamond"]}}
    }}
  ]
 },
 {
  "width": 268, "height": 234,
  "encoding": {
   "x": {"field": "x", "type": "quantitative", "scale": {"domain": [7.8, 11.75], "nice": false, "zero": false}, "axis": {"values": [8, 9, 10, 11], "title": "logM(stars) [M⊙]", "titlePadding": 5}},
   "y": {"field": "y", "type": "quantitative", "scale": {"domain": [-2.8, 2.8], "nice": false, "zero": false}, "axis": {"values": [-2, -1, 0, 1, 2], "title": null, "labelExpr": "replace(datum.label, '-', '−')"}}
  },
  "layer": [
   {"data": {"name": "band"}, "mark": {"type": "area", "color": "#d4d4d4", "clip": true}, "encoding": {"y2": {"field": "y2"}}},
   {"data": {"name": "msline"}, "mark": {"type": "line", "color": "#8a8a8a", "strokeDash": [5, 3], "strokeWidth": 1.4, "clip": true}, "encoding": {}},
   {"data": {"name": "contours"}, "mark": {"type": "line", "color": "#111111", "strokeWidth": 1.3, "clip": true}, "encoding": {"detail": {"field": "l", "type": "nominal"}, "order": {"field": "o", "type": "quantitative"}}},
   {"data": {"name": "pointer"}, "mark": {"type": "rule", "color": "#777777", "strokeWidth": 0.8}, "encoding": {"x2": {"field": "x2"}, "y2": {"field": "y2"}}},
   {"data": {"name": "notes"}, "mark": {"type": "text", "color": "#808080", "font": "DejaVu Serif", "fontSize": 11, "align": "center", "baseline": "middle"}, "encoding": {"text": {"field": "text"}}},
   {"data": {"name": "labels"}, "transform": [{"filter": "datum.p == 2"}], "mark": {"type": "text", "color": "#111111", "font": "DejaVu Serif", "fontSize": 13, "align": "left", "baseline": "middle"}, "encoding": {"text": {"field": "text"}}},
   {"data": {"name": "sdss"}, "mark": {"type": "point", "filled": true, "color": "black", "size": 5, "opacity": 1}},
   {"data": {"name": "ulirg"}, "mark": {"type": "point", "filled": true, "color": "black", "opacity": 1},
    "encoding": {"size": {"datum": "(U)LIRGs (U et al. 2012)", "type": "nominal", "scale": {"type": "ordinal", "range": [16]}}}},
   {"data": {"name": "psb"}, "transform": [{"filter": "datum.p == 2 && datum.u == 0 && datum.s == 'French (2015)'"}], "mark": {"type": "point", "filled": true, "size": 65, "opacity": 1},
    "encoding": {
     "color": {"field": "s", "type": "nominal", "scale": {"domain": ["French (2015)", "Rowlands (2015)", "Alatalo (2016)", "Yesuf (2017)", "This work"], "range": ["#4ec8ee", "#b04ce8", "#58e058", "#f0b43c", "#ff0000"]}},
     "shape": {"field": "t", "type": "nominal", "scale": {"domain": ["PSB (with emission lines)", "E+A (weak emission)"], "range": ["circle", "diamond"]}}
    }},
   {"data": {"name": "psb"}, "transform": [{"filter": "datum.p == 2 && datum.u == 0 && datum.s != 'This work' && datum.s != 'French (2015)'"}], "mark": {"type": "point", "filled": true, "size": 40, "opacity": 1},
    "encoding": {
     "color": {"field": "s", "type": "nominal", "scale": {"domain": ["French (2015)", "Rowlands (2015)", "Alatalo (2016)", "Yesuf (2017)", "This work"], "range": ["#4ec8ee", "#b04ce8", "#58e058", "#f0b43c", "#ff0000"]}},
     "shape": {"field": "t", "type": "nominal", "scale": {"domain": ["PSB (with emission lines)", "E+A (weak emission)"], "range": ["circle", "diamond"]}}
    }},
   {"data": {"name": "psb"}, "transform": [{"filter": "datum.p == 2 && datum.u == 1"}], "mark": {"type": "point", "shape": "M0,-1L0,1M-0.45,0.4L0,1L0.45,0.4", "filled": false, "size": 110, "strokeWidth": 1.3, "yOffset": 5, "opacity": 1},
    "encoding": {"stroke": {"field": "s", "type": "nominal", "scale": {"domain": ["French (2015)", "Rowlands (2015)", "Alatalo (2016)", "Yesuf (2017)", "This work"], "range": ["#4ec8ee", "#b04ce8", "#58e058", "#f0b43c", "#ff0000"]}, "legend": null}}},
   {"data": {"name": "psb"}, "transform": [{"filter": "datum.p == 2 && datum.u == 0 && datum.s == 'This work'"}], "mark": {"type": "point", "filled": true, "size": 85, "opacity": 1},
    "encoding": {
     "color": {"field": "s", "type": "nominal", "scale": {"domain": ["French (2015)", "Rowlands (2015)", "Alatalo (2016)", "Yesuf (2017)", "This work"], "range": ["#4ec8ee", "#b04ce8", "#58e058", "#f0b43c", "#ff0000"]}},
     "shape": {"field": "t", "type": "nominal", "scale": {"domain": ["PSB (with emission lines)", "E+A (weak emission)"], "range": ["circle", "diamond"]}}
    }}
  ]
 }
]
}
